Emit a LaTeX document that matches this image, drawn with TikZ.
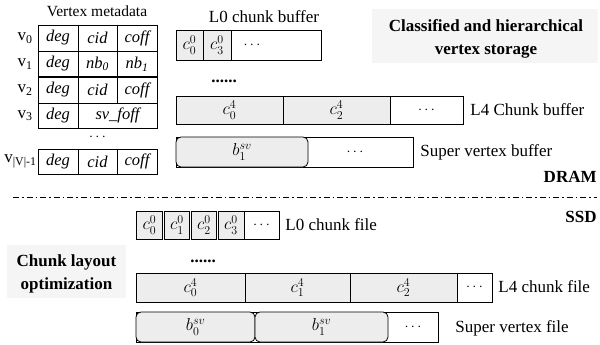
\documentclass[tikz,border=0pt]{standalone}
\usepackage{fontspec}
\setmainfont{Liberation Serif}
\begin{document}
\begin{tikzpicture}[x=1pt,y=-1pt, line width=0.8pt,
  every node/.style={font=\fontsize{17}{20}\selectfont, inner sep=0pt},
  gcell/.style={draw, fill=black!7},
  wcell/.style={draw, fill=white},
  rcell/.style={draw, fill=black!7, rounded corners=5pt},
  ital/.style={font=\fontsize{16.5}{19}\selectfont\itshape},
  mth/.style={font=\fontsize{18}{21}\selectfont},
  dts/.style={font=\fontsize{14}{16}\selectfont},
  bgbox/.style={fill=black!4},
  boldtxt/.style={font=\fontsize{17}{23}\selectfont\bfseries, align=center},
  ddot/.style={dash pattern=on 6pt off 3pt on 1.5pt off 3pt}]
\useasboundingbox (0,0) rectangle (600,345);

% ---------- Vertex metadata table ----------
\node (vmt) at (97,11) {\fontsize{15.5}{18}\selectfont Vertex metadata};
\draw (38,25) rectangle (157,128);
\draw (78,25) -- (78,128);
\draw (117,25) -- (117,103);
\draw (38,51) -- (157,51);
\draw[line width=1.6pt] (38,77) -- (157,77);
\draw (38,103) -- (157,103);
\draw (38,149) rectangle (157,174);
\draw (78,149) -- (78,174);
\draw (117,149) -- (117,174);

\node (v0) at (25,38) {v\textsubscript{0}};
\node (v1) at (25,64) {v\textsubscript{1}};
\node (v2) at (25,90) {v\textsubscript{2}};
\node (v3) at (25,115.5) {v\textsubscript{3}};
\node[anchor=east] (vl) at (37,161.5) {v\textsubscript{|V|-1}};

\node[ital] (a1) at (58,38) {deg};
\node[ital] (a2) at (97.5,38) {cid};
\node[ital] (a3) at (137,38) {coff};
\node[ital] (b1) at (58,64) {deg};
\node[ital] (b2) at (97.5,64) {nb\textsubscript{0}};
\node[ital] (b3) at (137,64) {nb\textsubscript{1}};
\node[ital] (c1) at (58,90) {deg};
\node[ital] (c2) at (97.5,90) {cid};
\node[ital] (c3) at (137,90) {coff};
\node[ital] (d1) at (58,115.5) {deg};
\node[ital] (d2) at (117.5,115.5) {sv\_foff};
\node[dts] (tdots) at (97.5,137) {$\cdots$};
\node[ital] (e1) at (58,161.5) {deg};
\node[ital] (e2) at (97.5,161.5) {cid};
\node[ital] (e3) at (137,161.5) {coff};

% ---------- DRAM buffers ----------
\node (l0bt) at (264,17) {L0 chunk buffer};
\draw[wcell] (176,30) rectangle (321,60);
\draw[gcell] (176,30) rectangle (203,60);
\draw[gcell] (203,30) rectangle (231,60);
\node[mth] (l0b0) at (189.5,45) {$c_0^0$};
\node[mth] (l0b3) at (217,45) {$c_3^0$};
\node[dts] (l0bd) at (252,45) {$\cdots$};

\node (dramdots) at (224,81) {\textbf{......}};

\draw[wcell] (176,96) rectangle (463,124);
\draw[gcell] (176,96) rectangle (283,124);
\draw[gcell] (283,96) rectangle (390,124);
\node[mth] (l4b0) at (229.5,110) {$c_0^4$};
\node[mth] (l4b2) at (336.5,110) {$c_2^4$};
\node[dts] (l4bd) at (426.5,110) {$\cdots$};
\node[anchor=west] (l4bl) at (470,110) {L4 Chunk buffer};

\draw[wcell] (176,137) rectangle (413,167);
\draw[rcell] (176,137) rectangle (308,167);
\node[mth] (svb1) at (242,152) {$b_1^{sv}$};
\node[dts] (svbd) at (355,152) {$\cdots$};
\node[anchor=west] (svbl) at (420,152) {Super vertex buffer};

% ---------- title ----------
\fill[bgbox] (372,9) rectangle (598,63);
\node[boldtxt] (title) at (486,39) {Classified and hierarchical\\vertex storage};

% ---------- separator ----------
\node[anchor=east, font=\fontsize{17}{20}\selectfont\bfseries] (dram) at (597,177) {DRAM};
\coordinate (sepl) at (13,197);
\coordinate (sepr) at (597,197);
\draw[ddot, line width=0.9pt] (sepl) -- (sepr);
\node[anchor=east, font=\fontsize{17}{20}\selectfont\bfseries] (ssd) at (597,217) {SSD};

% ---------- SSD files ----------
\draw[gcell] (136,211) rectangle (162.5,239);
\draw[gcell] (164,211) rectangle (189.5,239);
\draw[gcell] (191,211) rectangle (216.5,239);
\draw[gcell] (218,211) rectangle (244,239);
\draw[wcell] (244,211) rectangle (279,239);
\node[mth] (f0) at (149.5,225) {$c_0^0$};
\node[mth] (f1) at (177,225) {$c_1^0$};
\node[mth] (f2) at (204,225) {$c_2^0$};
\node[mth] (f3) at (231,225) {$c_3^0$};
\node[dts] (fd) at (261.5,225) {$\cdots$};
\node[anchor=west] (l0fl) at (285,225) {L0 chunk file};

\fill[bgbox] (7,245) rectangle (126,298);
\node[boldtxt] (opt) at (66.5,274) {Chunk layout\\optimization};

\node (ssddots) at (203,261) {\textbf{......}};

\draw[wcell] (136,273) rectangle (492,302);
\draw[gcell] (136,273) rectangle (245,302);
\draw[gcell] (245,273) rectangle (350,302);
\draw[gcell] (350,273) rectangle (457,302);
\node[mth] (l4f0) at (190.5,287.5) {$c_0^4$};
\node[mth] (l4f1) at (297.5,287.5) {$c_1^4$};
\node[mth] (l4f2) at (403.5,287.5) {$c_2^4$};
\node[dts] (l4fd) at (474.5,287.5) {$\cdots$};
\node[anchor=west] (l4fl) at (498,287) {L4 chunk file};

\draw[wcell] (136,312) rectangle (438,342);
\draw[rcell] (136,312) rectangle (255,342);
\draw[rcell] (255,312) rectangle (388,342);
\node[mth] (svf0) at (195.5,327) {$b_0^{sv}$};
\node[mth] (svf1) at (321.5,327) {$b_1^{sv}$};
\node[dts] (svfd) at (413,327) {$\cdots$};
\node[anchor=west] (svfl) at (455,328) {Super vertex file};
\end{tikzpicture}
\end{document}
